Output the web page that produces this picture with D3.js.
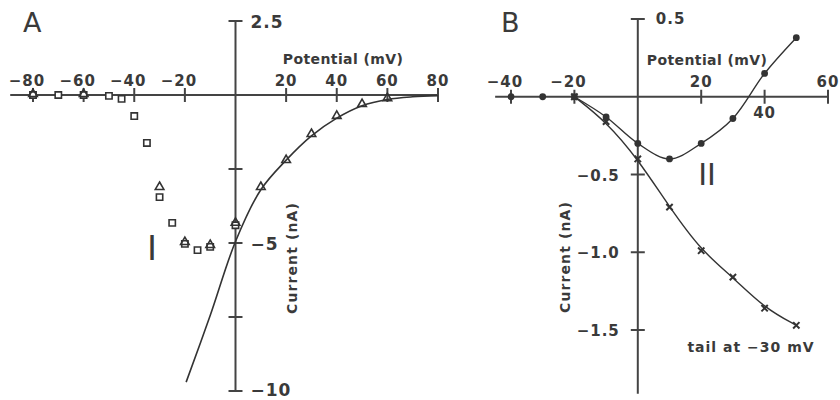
<!DOCTYPE html>
<html>
<head>
<meta charset="utf-8">
<script src="https://cdn.jsdelivr.net/npm/d3@7"></script>
<style>
  body { margin: 0; background: #fff; }
  text { font-family: "DejaVu Sans", sans-serif; fill: #3a3a3a; }
</style>
</head>
<body>
<script>
const canvWidth = 840, canvHeight = 400;

// panel A: open squares and triangles, potential (mV) vs current (nA)
const aSquareV = [-80, -70, -60, -50, -45, -40, -35, -30, -25, -20, -15, -10, 0];
const aSquareI = [0, 0, 0, -0.03, -0.13, -0.71, -1.62, -3.45, -4.32, -5.03, -5.24, -5.13, -4.4];
const aTriV = [-80, -60, -30, -20, -10, 0, 10, 20, 30, 40, 50, 60];
const aTriI = [0, 0, -3.14, -5.0, -5.1, -4.35, -3.14, -2.23, -1.35, -0.74, -0.34, -0.14];
const aCurveV = [-19.5, -10, 0, 10, 20, 30, 40, 50, 60, 70, 80];
const aCurveI = [-9.7, -7.45, -4.95, -3.2, -2.2, -1.38, -0.78, -0.36, -0.15, -0.06, -0.02];
const aXTicks = [-80, -60, -40, -20, 20, 40, 60, 80];
const aXLabels = [-80, -60, -40, -20, 20, 40, 60, 80];
const aYTicks = [2.5, -2.5, -5, -7.5, -10];
const aYLabels = ["2.5", "−5", "−10"];
const aYLabelVals = [2.5, -5, -10];

// panel B: filled circles and crosses (tail at -30 mV)
const bDotV = [-40, -30, -20, -10, 0, 10, 20, 30, 40, 50];
const bDotI = [0, 0, 0, -0.13, -0.30, -0.40, -0.30, -0.14, 0.15, 0.38];
const bCrossV = [-20, -10, 0, 10, 20, 30, 40, 50];
const bCrossI = [0, -0.16, -0.40, -0.71, -0.99, -1.16, -1.36, -1.47];
const bXTicks = [-40, -20, 20, 40, 60];
const bXLabels = [-40, -20, 20, 60];
const bXLabelsBelow = [40];
const bYTicks = [0.5, -0.5, -1.0, -1.5];
const bYLabels = ["0.5", "−0.5", "−1.0", "−1.5"];

const axisColor = "#444";
const lineColor = "#333";

const svg = d3.select("body").append("svg")
    .attr("width", canvWidth)
    .attr("height", canvHeight);

const xA = d3.scaleLinear().domain([-80, 80]).range([33, 438]);
const yA = d3.scaleLinear().domain([2.5, -10]).range([21, 391]);
const xB = d3.scaleLinear().domain([-40, 60]).range([511, 828]);
const yB = d3.scaleLinear().domain([0.5, -1.5]).range([19, 330]);

const minus = v => (v < 0 ? "−" : "") + Math.abs(v);

// ---------- Panel A ----------
const gA = svg.append("g").attr("id", "panelA");

gA.append("line")
    .attr("x1", xA(-89)).attr("x2", xA(80))
    .attr("y1", yA(0)).attr("y2", yA(0))
    .attr("stroke", axisColor).attr("stroke-width", 2);
gA.append("line")
    .attr("x1", xA(0)).attr("x2", xA(0))
    .attr("y1", yA(2.5)).attr("y2", yA(-10))
    .attr("stroke", axisColor).attr("stroke-width", 2);

gA.selectAll(".xtick").data(aXTicks).enter().append("line")
    .attr("class", "xtick")
    .attr("x1", d => xA(d)).attr("x2", d => xA(d))
    .attr("y1", yA(0) - 7).attr("y2", yA(0) + 7)
    .attr("stroke", axisColor).attr("stroke-width", 2);

gA.selectAll(".ytick").data(aYTicks).enter().append("line")
    .attr("class", "ytick")
    .attr("x1", xA(0) - 7).attr("x2", xA(0) + 7)
    .attr("y1", d => yA(d)).attr("y2", d => yA(d))
    .attr("stroke", axisColor).attr("stroke-width", 2);

gA.selectAll(".xlabel").data(aXLabels).enter().append("text")
    .attr("class", "xlabel")
    .attr("x", d => xA(d) + (d < 0 ? -6 : 0))
    .attr("y", yA(0) - 9)
    .attr("font-size", "15px")
    .attr("font-weight", "bold")
    .attr("letter-spacing", "1px")
    .attr("text-anchor", "middle")
    .text(d => minus(d));

gA.selectAll(".ylabel").data(aYLabelVals).enter().append("text")
    .attr("class", "ylabel")
    .attr("x", xA(0) + 15)
    .attr("y", d => yA(d) + (d < -9 ? 5 : 7))
    .attr("font-size", "17px")
    .attr("font-weight", "bold")
    .attr("letter-spacing", "1px")
    .text((d, i) => aYLabels[i]);

gA.append("text")
    .attr("x", 343).attr("y", 64)
    .attr("font-size", "14px")
    .attr("font-weight", "bold")
    .attr("letter-spacing", "0.4px")
    .attr("text-anchor", "middle")
    .text("Potential (mV)");

gA.append("text")
    .attr("transform", "translate(297,258) rotate(-90)")
    .attr("font-size", "14px")
    .attr("font-weight", "bold")
    .attr("letter-spacing", "1.1px")
    .attr("text-anchor", "middle")
    .text("Current (nA)");

gA.append("text")
    .attr("x", 23).attr("y", 32)
    .attr("font-size", "27px")
    .text("A");

gA.append("text")
    .attr("x", 152).attr("y", 260)
    .attr("font-size", "34px")
    .attr("text-anchor", "middle")
    .text("I");

const lineA = d3.line()
    .x((d, i) => xA(aCurveV[i]))
    .y(d => yA(d))
    .curve(d3.curveCatmullRom);

gA.append("path")
    .datum(aCurveI)
    .attr("d", lineA)
    .attr("fill", "none")
    .attr("stroke", lineColor)
    .attr("stroke-width", 1.6);

gA.selectAll(".sq").data(aSquareI).enter().append("path")
    .attr("class", "sq")
    .attr("transform", (d, i) => `translate(${xA(aSquareV[i])},${yA(d)})`)
    .attr("d", d3.symbol(d3.symbolSquare, 40))
    .attr("fill", "white")
    .attr("stroke", lineColor)
    .attr("stroke-width", 1.6);

gA.selectAll(".tri").data(aTriI).enter().append("path")
    .attr("class", "tri")
    .attr("transform", (d, i) => `translate(${xA(aTriV[i])},${yA(d) - 1})`)
    .attr("d", d3.symbol(d3.symbolTriangle, 32))
    .attr("fill", "none")
    .attr("stroke", lineColor)
    .attr("stroke-width", 1.6);

// ---------- Panel B ----------
const gB = svg.append("g").attr("id", "panelB");

gB.append("line")
    .attr("x1", xB(-45)).attr("x2", xB(60))
    .attr("y1", yB(0)).attr("y2", yB(0))
    .attr("stroke", axisColor).attr("stroke-width", 2);
gB.append("line")
    .attr("x1", xB(0)).attr("x2", xB(0))
    .attr("y1", yB(0.5)).attr("y2", yB(-1.91))
    .attr("stroke", axisColor).attr("stroke-width", 2);

gB.selectAll(".xtick").data(bXTicks).enter().append("line")
    .attr("class", "xtick")
    .attr("x1", d => xB(d)).attr("x2", d => xB(d))
    .attr("y1", yB(0) - 7).attr("y2", yB(0) + 7)
    .attr("stroke", axisColor).attr("stroke-width", 2);

gB.selectAll(".ytick").data(bYTicks).enter().append("line")
    .attr("class", "ytick")
    .attr("x1", xB(0) - 7).attr("x2", xB(0) + 7)
    .attr("y1", d => yB(d)).attr("y2", d => yB(d))
    .attr("stroke", axisColor).attr("stroke-width", 2);

gB.selectAll(".xlabel").data(bXLabels).enter().append("text")
    .attr("class", "xlabel")
    .attr("x", d => xB(d) + (d < 0 ? -6 : 0))
    .attr("y", yB(0) - 10)
    .attr("font-size", "15px")
    .attr("font-weight", "bold")
    .attr("letter-spacing", "1px")
    .attr("text-anchor", "middle")
    .text(d => minus(d));

gB.selectAll(".xlabelb").data(bXLabelsBelow).enter().append("text")
    .attr("class", "xlabelb")
    .attr("x", d => xB(d))
    .attr("y", yB(0) + 21)
    .attr("font-size", "15px")
    .attr("font-weight", "bold")
    .attr("letter-spacing", "1px")
    .attr("text-anchor", "middle")
    .text(d => minus(d));

gB.selectAll(".ylabel").data(bYTicks).enter().append("text")
    .attr("class", "ylabel")
    .attr("x", d => d > 0 ? xB(0) + 18 : xB(0) - 18)
    .attr("y", d => d > 0 ? yB(d) + 5 : yB(d) + 6)
    .attr("font-size", "15px")
    .attr("font-weight", "bold")
    .attr("letter-spacing", "1px")
    .attr("text-anchor", d => d > 0 ? "start" : "end")
    .text((d, i) => bYLabels[i]);

gB.append("text")
    .attr("x", 707).attr("y", 65)
    .attr("font-size", "14px")
    .attr("font-weight", "bold")
    .attr("letter-spacing", "0.4px")
    .attr("text-anchor", "middle")
    .text("Potential (mV)");

gB.append("text")
    .attr("transform", "translate(570,257) rotate(-90)")
    .attr("font-size", "14px")
    .attr("font-weight", "bold")
    .attr("letter-spacing", "1.1px")
    .attr("text-anchor", "middle")
    .text("Current (nA)");

gB.append("text")
    .attr("x", 751).attr("y", 352)
    .attr("font-size", "14px")
    .attr("font-weight", "bold")
    .attr("letter-spacing", "1px")
    .attr("text-anchor", "middle")
    .text("tail at −30 mV");

gB.append("text")
    .attr("x", 501).attr("y", 32)
    .attr("font-size", "27px")
    .text("B");

gB.append("text")
    .attr("x", 707).attr("y", 185)
    .attr("font-size", "30px")
    .attr("text-anchor", "middle")
    .text("II");

const lineDot = d3.line()
    .x((d, i) => xB(bDotV[i + 2]))
    .y(d => yB(d))
    .curve(d3.curveCatmullRom);

gB.append("path")
    .datum(bDotI.slice(2))
    .attr("d", lineDot)
    .attr("fill", "none")
    .attr("stroke", lineColor)
    .attr("stroke-width", 1.4);

// smooth fit through the tail currents
const lineCross = d3.line()
    .x((d, i) => xB(bCrossV[i]))
    .y(d => yB(d))
    .curve(d3.curveBasis);

gB.append("path")
    .datum(bCrossI)
    .attr("d", lineCross)
    .attr("fill", "none")
    .attr("stroke", lineColor)
    .attr("stroke-width", 1.4);

gB.selectAll(".dot").data(bDotI).enter().append("circle")
    .attr("class", "dot")
    .attr("cx", (d, i) => xB(bDotV[i]))
    .attr("cy", d => yB(d))
    .attr("r", 3.4)
    .attr("fill", lineColor);

gB.selectAll(".cross").data(bCrossI).enter().append("path")
    .attr("class", "cross")
    .attr("transform", (d, i) => `translate(${xB(bCrossV[i])},${yB(d)})`)
    .attr("d", d3.symbol(d3.symbolX, 28))
    .attr("fill", "none")
    .attr("stroke", lineColor)
    .attr("stroke-width", 2);
</script>
</body>
</html>
